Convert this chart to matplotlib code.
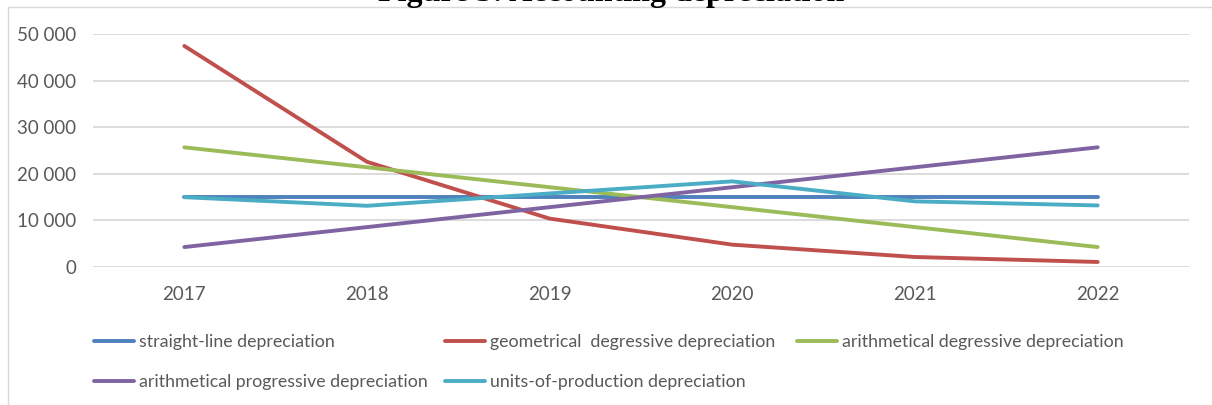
import matplotlib
matplotlib.use("Agg")
import matplotlib.pyplot as plt
from matplotlib.patches import Rectangle

years = ["2017", "2018", "2019", "2020", "2021", "2022"]
straight_line = [15000, 15000, 15000, 15000, 15000, 15000]
geometrical_degressive = [47500, 22600, 10400, 4800, 2150, 1080]
arithmetical_degressive = [25714, 21429, 17143, 12857, 8571, 4286]
arithmetical_progressive = [4286, 8571, 12857, 17143, 21429, 25714]
units_of_production = [15000, 13150, 15800, 18400, 14100, 13230]

series_names = [
    "straight-line depreciation",
    "geometrical  degressive depreciation",
    "arithmetical degressive depreciation",
    "arithmetical progressive depreciation",
    "units-of-production depreciation",
]
series_values = [straight_line, geometrical_degressive, arithmetical_degressive,
                 arithmetical_progressive, units_of_production]
colors = ["#4F81BD", "#C0504D", "#9BBB59", "#8064A2", "#4BACC6"]
yticks = [0, 10000, 20000, 30000, 40000, 50000]
title = "Figure 3: Accounting depreciation"

FONT = ["Lato", "DejaVu Sans"]
TXT = "#595959"
W, H = 1212, 405

fig = plt.figure(figsize=(W / 100, H / 100), dpi=100)
fig.patch.set_facecolor("white")

# chart area border (left/top visible)
fig.patches.append(Rectangle((8 / W, -0.1), 1.2, (1 - 7 / H) + 0.1,
                             transform=fig.transFigure, fill=False,
                             edgecolor="#D9D9D9", linewidth=1.0, zorder=0))

left, right = 93 / W, 1189 / W
bottom, top = (H - 267) / H, (H - 34.3) / H
ax = fig.add_axes([left, bottom, right - left, top - bottom])
ax.set_facecolor("none")

x = list(range(len(years)))
handles = []
for name, vals, c in zip(series_names, series_values, colors):
    ln, = ax.plot(x, vals, color=c, linewidth=2.8, solid_capstyle="round",
                  solid_joinstyle="round", label=name, zorder=3)
    handles.append(ln)

ax.set_xlim(-0.5, len(years) - 0.5)
ax.set_ylim(0, 50000)
ax.set_yticks(yticks)
ax.set_yticklabels([f"{v:,}".replace(",", " ") for v in yticks])
ax.set_xticks(x)
ax.set_xticklabels(years)
ax.grid(axis="y", color="#D9D9D9", linewidth=1.3, zorder=0)
ax.set_axisbelow(True)
for s in ax.spines.values():
    s.set_visible(False)
ax.tick_params(axis="both", length=0, colors=TXT, labelsize=13.5)
ax.tick_params(axis="x", pad=14)
ax.tick_params(axis="y", pad=12)
for lab in ax.get_xticklabels() + ax.get_yticklabels():
    lab.set_family(FONT)

# legend: three columns, placed at Excel-like fixed column starts
col_groups = [[0, 3], [1, 4], [2]]
col_x = [94, 445, 797]
for grp, cx in zip(col_groups, col_x):
    leg = fig.legend([handles[i] for i in grp], [series_names[i] for i in grp],
                     loc="upper left", bbox_to_anchor=(cx / W, 1 - 334 / H),
                     frameon=False, ncol=1, handlelength=2.25, handletextpad=0.3,
                     labelspacing=1.35, borderpad=0, borderaxespad=0,
                     prop={"family": FONT, "size": 12.8})
    for t in leg.get_texts():
        t.set_color(TXT)
    for l in leg.get_lines():
        l.set_linewidth(2.8)
        l.set_solid_capstyle("round")

fig.text(611 / W, 1 - 0.5 / H, title, ha="center", va="baseline",
         family=["Liberation Serif", "DejaVu Serif"], weight="bold", size=23,
         color="black")

fig.savefig("out.png", dpi=100)
